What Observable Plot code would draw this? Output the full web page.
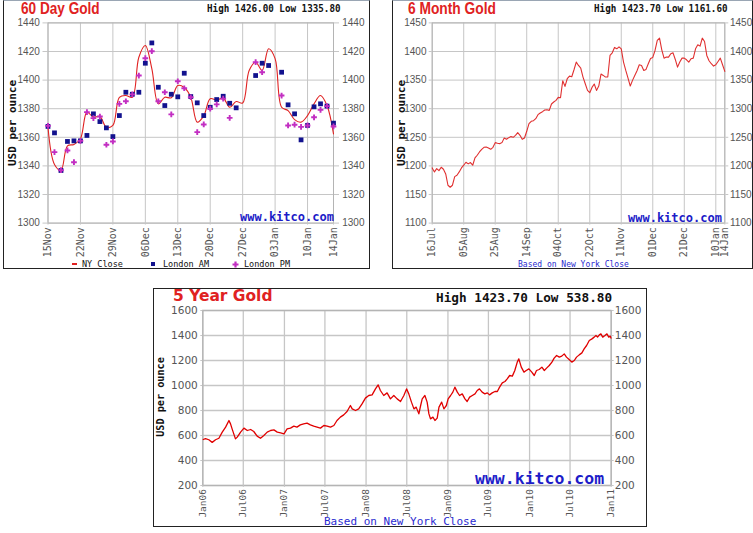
<!DOCTYPE html>
<html><head><meta charset="utf-8">
<script src="https://cdn.jsdelivr.net/npm/d3@7"></script>
<script src="https://cdn.jsdelivr.net/npm/@observablehq/plot@0.6"></script>
<style>
html,body{margin:0;padding:0;background:#fff}
body{width:753px;height:533px;position:relative;overflow:hidden}
.box{position:absolute;border:1px solid #222;box-sizing:border-box;background:#fff}
.t{position:absolute;white-space:nowrap;line-height:1;transform-origin:0 0}
.chart{position:absolute}
</style></head><body>
<script>
// ---------------- DATA ----------------
// 60 Day Gold (weekdays 15 Nov 2010 .. 14 Jan 2011)
const sixtyStart = "2010-11-15", sixtyEnd = "2011-01-15";
const sixtyTickLabels = ["15Nov","22Nov","29Nov","06Dec","13Dec","20Dec","27Dec","03Jan","10Jan","14Jan"];
const sixtyYTicks = [1300,1320,1340,1360,1380,1400,1420,1440];
const nyClose60 = [1367,1341,1337,1354,1355,1359,1377.6,1374,1374.5,1367,
  1368.3,1388,1389.2,1388,1416,1424.2,1408,1383.4,1388,1387.6,
  1396.2,1394.8,1388,1370.6,1375,1387,1386,1387.4,1381,1385,
  1384,1406.7,1412.5,1406.7,1421.9,1415,1381,1378.7,1372.4,1370.6,
  1375.2,1383.4,1389.2,1382.2,1362.4];
const londonAM60 = [1367.6,1363.1,1336.8,1357.1,1357.5,1357.5,1361.3,1376.4,1371,1366.6,
  1360.5,1375.2,1391.5,1390.1,1391.5,1411.8,1426,1395,1382.2,1390.1,
  1388.3,1404.8,1388.5,1384.1,1375.2,1381,1386.4,1388.7,1383.8,1380.6,
  null,null,1403.2,1411.8,1410.2,null,1405.5,1382.7,1376.4,1358.2,
  1368.3,1381.3,1383.4,1381.8,1369.9];
const londonPM60 = [1368,1349.6,1337,1350.8,1342.6,1357.5,1377.6,1373.4,1374.5,1354.8,
  1357.1,1383.4,1385.2,1390,1403.2,1415.3,1420.2,1385.2,1391.5,1376,
  1399.2,1394.3,1388,1363.6,1369,1380,1383,1387,1373.6,null,
  null,null,1412.5,1405.5,null,null,1389.2,1368.3,1368.8,1367.3,
  1368.3,1374,1379.2,1381.8,1367.6];

// 6 Month Gold (weekdays 16 Jul 2010 .. 14 Jan 2011), New York close
const sixMStart = "2010-07-16", sixMEnd = "2011-01-15";
const sixMTickLabels = ["16Jul","05Aug","25Aug","14Sep","04Oct","22Oct","11Nov","01Dec","21Dec","10Jan","14Jan"];
const sixMYTicks = [1100,1150,1200,1250,1300,1350,1400,1450];
const sixMClose = [1196.5,1189.5,1195.3,1191.8,1197.6,1194.2,1186.0,1166.2,1162.7,1166.2,
  1181.3,1183.7,1189.5,1196.5,1201.2,1206.4,1203.5,1205.8,1201.2,1213.9,
  1218.6,1224.4,1229.0,1232.5,1233.1,1231.4,1229.0,1232.5,1240.7,1239.5,
  1238.9,1240.7,1248.8,1246.5,1249.4,1251.2,1250.0,1253.5,1258.1,1253.5,
  1246.5,1248.8,1260.5,1273.8,1277.9,1279.1,1282.6,1289.6,1292.5,1294.8,
  1297.7,1298.3,1297.1,1308.2,1311.7,1314.6,1319.8,1319.2,1348.9,1339.0,
  1352.4,1357.0,1355.9,1368.1,1381.5,1375.6,1371.0,1355.3,1343.6,1332.0,
  1327.9,1337.2,1343.1,1332.0,1339.6,1360.5,1358.2,1355.3,1355.3,1393.1,
  1397.7,1407.1,1404.7,1408.2,1404.7,1381.5,1366.9,1353.5,1339.6,1349.5,
  1358.2,1366.3,1376.8,1375.6,1366.9,1368.7,1378.6,1387.9,1389.6,1401.8,
  1419.3,1423.3,1403.0,1388.4,1390.2,1390.2,1396.0,1397.7,1386.1,1372.7,
  1381.5,1388.4,1388.4,1385.5,1381.5,1387.3,1388.4,1404.7,1411.7,1409.4,
  1423.3,1417.5,1393.1,1383.8,1378.6,1374.5,1376.8,1382.6,1388.4,1376.8,
  1365.2];

// 5 Year Gold
const fiveYTickLabels = ["Jan06","Jul06","Jan07","Jul07","Jan08","Jul08","Jan09","Jul09","Jan10","Jul10","Jan11"];
const fiveYYTicks = [200,400,600,800,1000,1200,1400,1600];
const fiveYDates = ["2006-01-03","2006-01-13","2006-01-28","2006-02-12","2006-02-27","2006-03-14","2006-03-29","2006-04-13","2006-04-28","2006-05-05",
  "2006-05-12","2006-05-27","2006-06-04","2006-06-19","2006-07-04","2006-07-19","2006-08-03","2006-08-17","2006-09-01","2006-09-16",
  "2006-10-01","2006-10-16","2006-10-31","2006-11-15","2006-11-30","2006-12-15","2006-12-30","2007-01-13","2007-01-28","2007-02-12",
  "2007-02-26","2007-03-13","2007-03-28","2007-04-12","2007-04-27","2007-05-12","2007-05-27","2007-06-11","2007-06-26","2007-07-11",
  "2007-07-26","2007-08-10","2007-08-24","2007-09-08","2007-09-23","2007-10-08","2007-10-23","2007-10-31","2007-11-15","2007-11-29",
  "2007-12-14","2007-12-29","2008-01-13","2008-01-28","2008-02-12","2008-02-24","2008-03-05","2008-03-20","2008-04-04","2008-04-19",
  "2008-05-04","2008-05-19","2008-06-03","2008-06-18","2008-06-30","2008-07-10","2008-07-22","2008-08-02","2008-08-12","2008-08-24",
  "2008-09-01","2008-09-08","2008-09-20","2008-09-30","2008-10-08","2008-10-15","2008-10-26","2008-11-04","2008-11-14","2008-11-22",
  "2008-12-04","2008-12-14","2008-12-25","2009-01-02","2009-01-13","2009-01-23","2009-02-01","2009-02-12","2009-02-22","2009-03-06",
  "2009-03-18","2009-03-28","2009-04-08","2009-04-20","2009-05-02","2009-05-12","2009-05-22","2009-06-03","2009-06-15","2009-06-26",
  "2009-07-06","2009-07-18","2009-07-30","2009-08-10","2009-08-20","2009-09-01","2009-09-13","2009-09-23","2009-10-04","2009-10-16",
  "2009-10-27","2009-11-07","2009-11-14","2009-11-25","2009-12-07","2009-12-17","2009-12-29","2010-01-11","2010-01-22","2010-02-01",
  "2010-02-13","2010-02-25","2010-03-08","2010-03-18","2010-03-30","2010-04-11","2010-04-21","2010-05-02","2010-05-14","2010-05-25",
  "2010-06-05","2010-06-15","2010-06-27","2010-07-09","2010-07-20","2010-07-30","2010-08-11","2010-08-23","2010-09-02","2010-09-13",
  "2010-09-25","2010-10-07","2010-10-17","2010-10-25","2010-11-01","2010-11-09","2010-11-16","2010-11-24","2010-12-04","2010-12-13",
  "2010-12-21","2010-12-28","2010-12-31"];
const fiveYClose = [568,575,566,545,566,578,627,667,720,693,
  653,573,587,627,659,640,648,632,595,578,
  600,627,640,645,627,621,613,653,659,675,
  667,685,693,699,685,675,667,659,680,675,
  667,680,720,747,765,792,840,813,800,813,
  853,899,920,925,973,1005,960,920,941,893,
  920,893,872,920,973,933,867,813,827,773,
  840,893,920,867,773,733,747,720,739,827,
  867,813,840,893,920,947,987,947,920,933,
  893,872,907,920,933,960,973,947,933,941,
  925,941,952,952,987,1021,1032,1053,1080,1075,
  1120,1187,1213,1147,1107,1120,1133,1107,1080,1120,
  1128,1147,1120,1139,1160,1187,1219,1240,1227,1235,
  1253,1227,1208,1187,1200,1227,1245,1261,1293,1320,
  1360,1373,1387,1400,1387,1405,1413,1387,1400,1413,
  1387,1395,1379];

// ---------------- HELPERS ----------------
function box(x, y, w, h, extra) {
  const d = document.createElement("div"); d.className = "box";
  Object.assign(d.style, {left: x + "px", top: y + "px", width: w + "px", height: h + "px"}, extra || {});
  document.body.appendChild(d);
}
function txt(s, x, y, css) {
  const d = document.createElement("div"); d.className = "t"; d.textContent = s;
  d.style.left = x + "px"; d.style.top = y + "px";
  Object.assign(d.style, css || {});
  document.body.appendChild(d); return d;
}
function place(svg, x, y) {
  svg.classList.add("chart"); svg.style.left = x + "px"; svg.style.top = y + "px";
  document.body.appendChild(svg);
}
const RED = "#e02222", BLUE_T = "#1c1cc8";
const monoB = {fontFamily: "'DejaVu Sans Mono', monospace", fontWeight: "bold"};
const weekdays = (a, b) => d3.utcDays(new Date(a), new Date(b)).filter(d => d.getUTCDay() % 6 !== 0);
const fmtDM = d3.utcFormat("%d%b");
const fmtN = d3.format("d");
const gridC = "#c6c6c6";

// panel frames
box(3, 0, 367, 269, {borderTopColor: "#9aa6b4"});
box(392, 0, 361, 269, {borderTopColor: "#9aa6b4"});
box(153, 288, 494, 239);

// ---------------- 60 DAY ----------------
const days60 = weekdays(sixtyStart, sixtyEnd);
const data60 = days60.map((d, i) => ({i, ny: nyClose60[i], am: londonAM60[i], pm: londonPM60[i]}));
const ticks60 = days60.map((d, i) => sixtyTickLabels.includes(fmtDM(d)) ? i : -1).filter(i => i >= 0);

place(Plot.plot({
  width: 365, height: 267,
  marginLeft: 43.5, marginRight: 36, marginTop: 21.4, marginBottom: 45.4,
  x: {domain: [0, days60.length - 1], label: null},
  y: {domain: [1300, 1440], label: null},
  style: {fontFamily: "'Liberation Sans', Arial, sans-serif", fontSize: "10px", color: "#555", background: "transparent", overflow: "visible"},
  marks: [
    Plot.gridY({ticks: sixtyYTicks, stroke: gridC, strokeOpacity: 1}),
    Plot.gridX({ticks: ticks60, stroke: gridC, strokeOpacity: 1}),
    Plot.frame({stroke: "#b4b4b4"}),
    Plot.axisY({anchor: "left", ticks: sixtyYTicks, tickFormat: fmtN, tickSize: 5, tickPadding: 3.2, stroke: gridC, fill: "#555", label: null}),
    Plot.axisY({anchor: "right", ticks: sixtyYTicks, tickFormat: fmtN, tickSize: 5, tickPadding: 3.7, stroke: gridC, fill: "#555", label: null}),
    Plot.axisX({ticks: ticks60, tickFormat: i => fmtDM(days60[i]), tickRotate: -90, tickSize: 2, tickPadding: 2,
      stroke: gridC, fill: "#555", label: null, fontFamily: "'DejaVu Sans Mono', monospace", fontSize: 10}),
    Plot.line(data60, {x: "i", y: "ny", stroke: RED, strokeWidth: 1.1, curve: "catmull-rom"}),
    Plot.dot(data60.filter(d => d.am != null), {x: "i", y: "am", symbol: "square", r: 2.7, fill: "#12128e", stroke: "none"}),
    Plot.dot(data60.filter(d => d.pm != null), {x: "i", y: "pm", symbol: "cross", r: 2.4, fill: "#c22ec2", stroke: "none"})
  ]
}), 4, 1);

txt("60 Day Gold", 20.7, 1.4, {fontFamily: "'Liberation Sans', Arial, sans-serif", fontWeight: "bold", fontSize: "16px", color: RED, transform: "scaleX(0.85)"});
txt("High 1426.00 Low 1335.80", 206.7, 2.8, {...monoB, fontSize: "10.5px", color: "#111", transform: "scaleX(0.88)"});
txt("USD per ounce", 11.7, 123, {...monoB, fontSize: "11px", color: "#111", transformOrigin: "50% 50%", transform: "translate(-50%,-50%) rotate(-90deg)"});
txt("www.kitco.com", 240, 211.3, {...monoB, fontSize: "12px", color: BLUE_T});
// legend
const lg = document.createElement("div");
lg.innerHTML = `<div style="position:absolute;left:71.7px;top:263.3px;width:5.6px;height:2px;background:${RED}"></div>
<div style="position:absolute;left:151.3px;top:262.3px;width:4px;height:4px;background:#12128e"></div>
<svg style="position:absolute;left:232px;top:261px" width="7" height="7"><path d="M2.4 0.5h2.2v1.9h1.9v2.2h-1.9v1.9h-2.2v-1.9h-1.9v-2.2h1.9z" fill="#c22ec2"/></svg>`;
document.body.appendChild(lg);
const legCss = {fontFamily: "'DejaVu Sans Mono', monospace", fontSize: "8.5px", color: "#111"};
txt("NY Close", 82, 260.2, legCss);
txt("London AM", 163, 260.2, legCss);
txt("London PM", 244, 260.2, legCss);

// ---------------- 6 MONTH ----------------
const days6m = weekdays(sixMStart, sixMEnd);
const data6m = days6m.map((d, i) => ({i, v: sixMClose[i]}));
const ticks6m = days6m.map((d, i) => sixMTickLabels.includes(fmtDM(d)) ? i : -1).filter(i => i >= 0);

place(Plot.plot({
  width: 359, height: 267,
  marginLeft: 38.7, marginRight: 27.7, marginTop: 21.4, marginBottom: 45.4,
  x: {domain: [0, days6m.length - 1], label: null},
  y: {domain: [1100, 1450], label: null},
  style: {fontFamily: "'Liberation Sans', Arial, sans-serif", fontSize: "10px", color: "#555", background: "transparent", overflow: "visible"},
  marks: [
    Plot.gridY({ticks: sixMYTicks, stroke: gridC, strokeOpacity: 1}),
    Plot.gridX({ticks: ticks6m, stroke: gridC, strokeOpacity: 1}),
    Plot.frame({stroke: "#b4b4b4"}),
    Plot.axisY({anchor: "left", ticks: sixMYTicks, tickFormat: fmtN, tickSize: 3, tickPadding: 2.7, stroke: gridC, fill: "#555", label: null}),
    Plot.axisY({anchor: "right", ticks: sixMYTicks, tickFormat: fmtN, tickSize: 3, tickPadding: 2.2, stroke: gridC, fill: "#555", label: null}),
    Plot.axisX({ticks: ticks6m, tickFormat: i => fmtDM(days6m[i]), tickRotate: -90, tickSize: 2, tickPadding: 2,
      stroke: gridC, fill: "#555", label: null, fontFamily: "'DejaVu Sans Mono', monospace", fontSize: 10}),
    Plot.line(data6m, {x: "i", y: "v", stroke: "#e03030", strokeWidth: 1.1})
  ]
}), 393, 1);

txt("6 Month Gold", 408, 1.4, {fontFamily: "'Liberation Sans', Arial, sans-serif", fontWeight: "bold", fontSize: "16px", color: RED, transform: "scaleX(0.86)"});
txt("High 1423.70 Low 1161.60", 594, 2.8, {...monoB, fontSize: "10.5px", color: "#111", transform: "scaleX(0.88)"});
txt("USD per ounce", 400.5, 122.5, {...monoB, fontSize: "11px", color: "#111", transformOrigin: "50% 50%", transform: "translate(-50%,-50%) rotate(-90deg)"});
txt("www.kitco.com", 628, 211.9, {...monoB, fontSize: "12px", color: BLUE_T});
txt("Based on New York Close", 518, 261.2, {fontFamily: "'DejaVu Sans Mono', monospace", fontSize: "8px", color: "#2a2ad0"});

// ---------------- 5 YEAR ----------------
const parseMY = d3.utcParse("%b%y");
const fmtMY = d3.utcFormat("%b%y");
const ticks5 = fiveYTickLabels.map(parseMY);
const data5 = fiveYDates.map((d, i) => ({date: new Date(d), v: fiveYClose[i]}));

place(Plot.plot({
  width: 492, height: 237,
  marginLeft: 48.3, marginRight: 35.3, marginTop: 21, marginBottom: 41,
  x: {type: "utc", domain: [ticks5[0], ticks5[ticks5.length - 1]], label: null},
  y: {domain: [200, 1600], label: null},
  style: {fontFamily: "'DejaVu Sans', Verdana, sans-serif", fontSize: "10.5px", color: "#555", background: "transparent", overflow: "visible"},
  marks: [
    Plot.gridY({ticks: fiveYYTicks, stroke: gridC, strokeOpacity: 1, strokeWidth: 1.3}),
    Plot.gridX({ticks: ticks5, stroke: gridC, strokeOpacity: 1, strokeWidth: 1.3}),
    Plot.frame({stroke: "#b4b4b4", strokeWidth: 1.3}),
    Plot.axisY({anchor: "left", ticks: fiveYYTicks, tickFormat: fmtN, tickSize: 2, tickPadding: 3, stroke: gridC, fill: "#555", label: null}),
    Plot.axisY({anchor: "right", ticks: fiveYYTicks, tickFormat: fmtN, tickSize: 2, tickPadding: 1.5, stroke: gridC, fill: "#555", label: null}),
    Plot.axisX({ticks: ticks5, tickFormat: fmtMY, tickRotate: -90, tickSize: 2, tickPadding: 1.5,
      stroke: gridC, fill: "#555", label: null, fontFamily: "'DejaVu Sans Mono', monospace", fontSize: 9.5}),
    Plot.line(data5, {x: "date", y: "v", stroke: "#e00000", strokeWidth: 1.3})
  ]
}), 154, 289);

txt("5 Year Gold", 172.7, 289.3, {fontFamily: "'DejaVu Sans', Verdana, sans-serif", fontWeight: "bold", fontSize: "15px", color: RED, transform: "scaleX(1.03)"});
txt("High 1423.70 Low 538.80", 436, 291.9, {...monoB, fontSize: "12px", color: "#111", transform: "scaleX(1.06)"});
txt("USD per ounce", 160.5, 397, {...monoB, fontSize: "10.2px", color: "#111", transformOrigin: "50% 50%", transform: "translate(-50%,-50%) rotate(-90deg)"});
txt("www.kitco.com", 475, 471, {...monoB, fontSize: "16.5px", color: BLUE_T});
txt("Based on New York Close", 324, 516.4, {fontFamily: "'DejaVu Sans Mono', monospace", fontSize: "11px", color: "#2a2ad0"});
</script>
</body></html>
